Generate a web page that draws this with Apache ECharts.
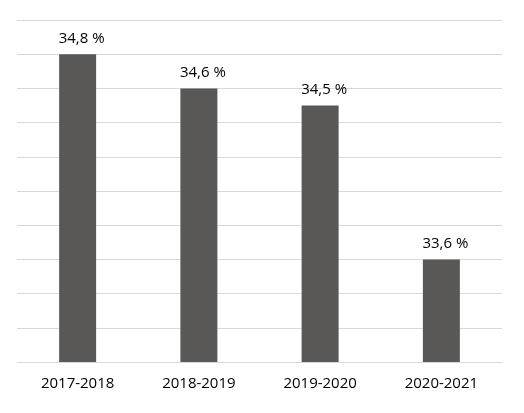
<!DOCTYPE html>
<html>
<head>
<meta charset="utf-8">
<script src="https://cdn.jsdelivr.net/npm/echarts@6/dist/echarts.min.js"></script>
<style>
html,body{margin:0;padding:0;background:#fff;}
#chart{width:524px;height:413px;}
</style>
</head>
<body>
<div id="chart"></div>
<script>
const categories = ['2017-2018', '2018-2019', '2019-2020', '2020-2021'];
const values = [34.8, 34.6, 34.5, 33.6];

const chart = echarts.init(document.getElementById('chart'), null, {renderer: 'canvas'});
chart.setOption({
  animation: false,
  backgroundColor: '#ffffff',
  grid: {left: 17, right: 22, top: 20, bottom: 51, containLabel: false},
  xAxis: {
    type: 'category',
    data: categories,
    axisLine: {show: true, lineStyle: {color: '#d9d9d9', width: 1}},
    axisTick: {show: false},
    axisLabel: {color: '#000', fontSize: 15, fontFamily: 'Open Sans', margin: 14}
  },
  yAxis: {
    type: 'value',
    min: 33,
    max: 35,
    interval: 0.2,
    axisLine: {show: false},
    axisTick: {show: false},
    axisLabel: {show: false},
    splitLine: {lineStyle: {color: '#d9d9d9', width: 1}}
  },
  series: [{
    type: 'bar',
    data: values,
    barWidth: 37,
    itemStyle: {color: '#595856'},
    label: {
      show: true,
      position: 'top',
      distance: 8,
      offset: [4, 0],
      color: '#000',
      fontSize: 15,
      fontFamily: 'Open Sans',
      formatter: p => p.value.toFixed(1).replace('.', ',') + ' %'
    }
  }]
});
</script>
</body>
</html>
